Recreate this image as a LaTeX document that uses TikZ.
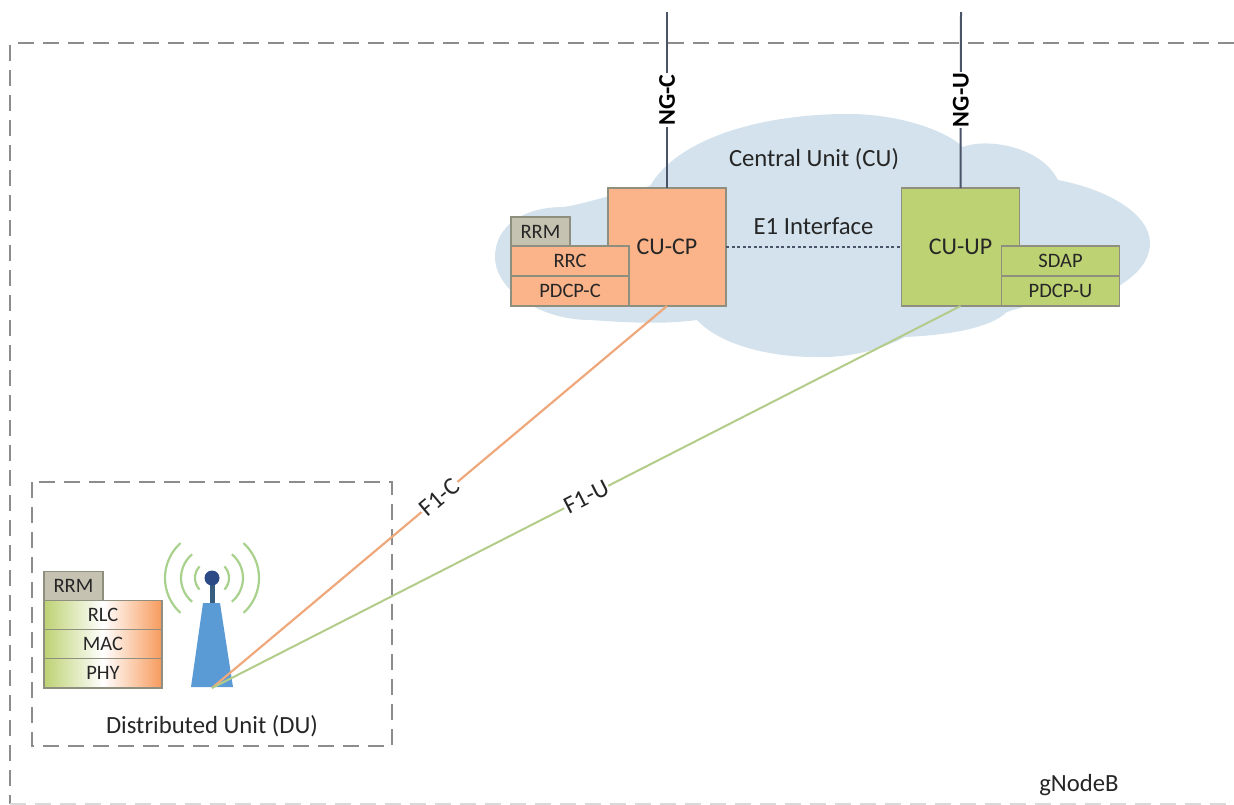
\documentclass[tikz,border=0pt]{standalone}
\usepackage{fontspec}
\setmainfont{Carlito}
\usepackage{tikz}
\usetikzlibrary{positioning}
\definecolor{cloudblue}{HTML}{D3E2EC}
\definecolor{cporange}{HTML}{FBB48A}
\definecolor{upgreen}{HTML}{BDD273}
\definecolor{rrmgray}{HTML}{C6C2B2}
\definecolor{edgegray}{HTML}{8F8F80}
\definecolor{ngslate}{HTML}{4A5468}
\definecolor{towerblue}{HTML}{5B9BD5}
\definecolor{wavegreen}{HTML}{A9D18E}
\definecolor{duorange}{HTML}{F79A5C}
\definecolor{fcorange}{HTML}{EFA87C}
\definecolor{fugreen}{HTML}{B3CC8A}
\newcommand{\txt}{\color{black!85}}

\begin{document}
\begin{tikzpicture}[x=1pt,y=-1pt,
              frame/.style={line width=2pt, black!45, dash pattern=on 16pt off 9pt},
              big/.style={draw=edgegray, line width=1.3pt, minimum width=118pt, minimum height=118pt, inner sep=0pt, outer sep=0pt, font=\fontsize{24}{24}\selectfont\txt},
              layer/.style={draw=edgegray, line width=1.1pt, minimum width=118pt, minimum height=30pt, inner sep=0pt, outer sep=0pt, font=\fontsize{20.5}{20.5}\selectfont\txt},
              rrmbox/.style={layer, minimum width=59pt, minimum height=29pt, fill=rrmgray},
              dulayer/.style={layer, minimum height=29.3pt, left color=upgreen, right color=duorange, middle color=white},
              lbl/.style={font=\fontsize{24.7}{24.7}\selectfont\txt, inner sep=0pt},
              onwire/.style={lbl, text=black!85, fill=white, inner sep=1pt},
              wave/.style={line width=2.2pt, wavegreen},
             ]
\useasboundingbox (0,0) rectangle (1234,804);
% gNodeB frame
\draw[frame] (1234,43) -- (16,43);
\draw[frame] (9.5,45) -- (9.5,804);
\draw[frame, black!15] (9.5,804) -- (1234,804);
% cloud
\fill[cloudblue] (650,186) .. controls (680,135) and (770,113) .. (853,114)
  .. controls (900,115) and (945,130) .. (963,147)
  .. controls (985,138) and (1040,145) .. (1058,180)
  .. controls (1110,190) and (1150,215) .. (1150,243)
  .. controls (1150,265) and (1130,280) .. (1112,290)
  .. controls (1085,300) and (1040,300) .. (1007,312)
  .. controls (990,328) and (950,335) .. (905,337)
  .. controls (880,350) and (850,358) .. (815,357)
  .. controls (770,357) and (720,345) .. (697,320)
  .. controls (660,325) and (620,322) .. (590,320)
  .. controls (540,320) and (495,290) .. (495,257)
  .. controls (495,225) and (525,207) .. (563,207)
  .. controls (580,205) and (610,195) .. (650,186) -- cycle;
% central unit
\node[lbl] (culabel) at (814,159) {Central Unit (CU)};
\node[big, fill=cporange] (cucp) at (667,247) {CU-CP};
\node[big, fill=upgreen] (cuup) at (960.5,247) {CU-UP};
\node[layer, fill=cporange] (rrc) at (570,261) {RRC};
\node[layer, fill=cporange, below=0pt of rrc] (pdcpc) {PDCP-C};
\node[rrmbox, anchor=south west] (rrmcu) at (rrc.north west) {RRM};
\node[layer, fill=upgreen] (sdap) at (1060.5,261) {SDAP};
\node[layer, fill=upgreen, below=0pt of sdap] (pdcpu) {PDCP-U};
\node[lbl] (e1label) at (813.5,226) {E1 Interface};
\draw[line width=1.8pt, ngslate, dash pattern=on 3pt off 2.5pt] (cucp) -- (cuup);
% core side
\coordinate (ngctop) at (667,12);
\coordinate (ngutop) at (961,12);
\draw[line width=2pt, ngslate] (ngctop) -- (cucp.north) node[onwire, midway, rotate=90, text=black, font=\fontsize{24}{24}\selectfont\bfseries] (ngc) {NG-C};
\draw[line width=2pt, ngslate] (ngutop) -- (cuup.north) node[onwire, midway, rotate=90, text=black, font=\fontsize{24}{24}\selectfont\bfseries] (ngu) {NG-U};
% distributed unit
\draw[frame] (32,482) rectangle (392,746);
\node[lbl] (dulabel) at (212,726) {Distributed Unit (DU)};
\node[dulayer] (rlc) at (103,614.7) {RLC};
\node[dulayer, below=0pt of rlc] (mac) {MAC};
\node[dulayer, below=0pt of mac] (phy) {PHY};
\node[rrmbox, anchor=south west] (rrmdu) at (rlc.north west) {RRM};
% antenna
\fill[towerblue] (191,687) -- (203,603) -- (220,603) -- (233,687) -- cycle;
\fill[towerblue!60!black] (209.5,585) rectangle (214.5,603);
\fill[towerblue!80!blue!60!black] (212,578) circle (7.5);
\foreach \r/\a in {17/43,31/50,47/48}{
  \draw[wave] (212,578) ++(180-\a:\r) arc[start angle=180-\a, end angle=180+\a, radius=\r];
  \draw[wave] (212,578) ++(-\a:\r) arc[start angle=-\a, end angle=\a, radius=\r];
}
\coordinate (base) at (212,688);
\draw[line width=2.2pt, fcorange] (cucp.south) -- (base) node[onwire, midway, sloped] (f1c) {F1-C};
\draw[line width=2pt, fugreen] (cuup.south) -- (base) node[onwire, midway, sloped] (f1u) {F1-U};
\node[lbl] (gnb) at (1079,785) {gNodeB};
\end{tikzpicture}
\end{document}
